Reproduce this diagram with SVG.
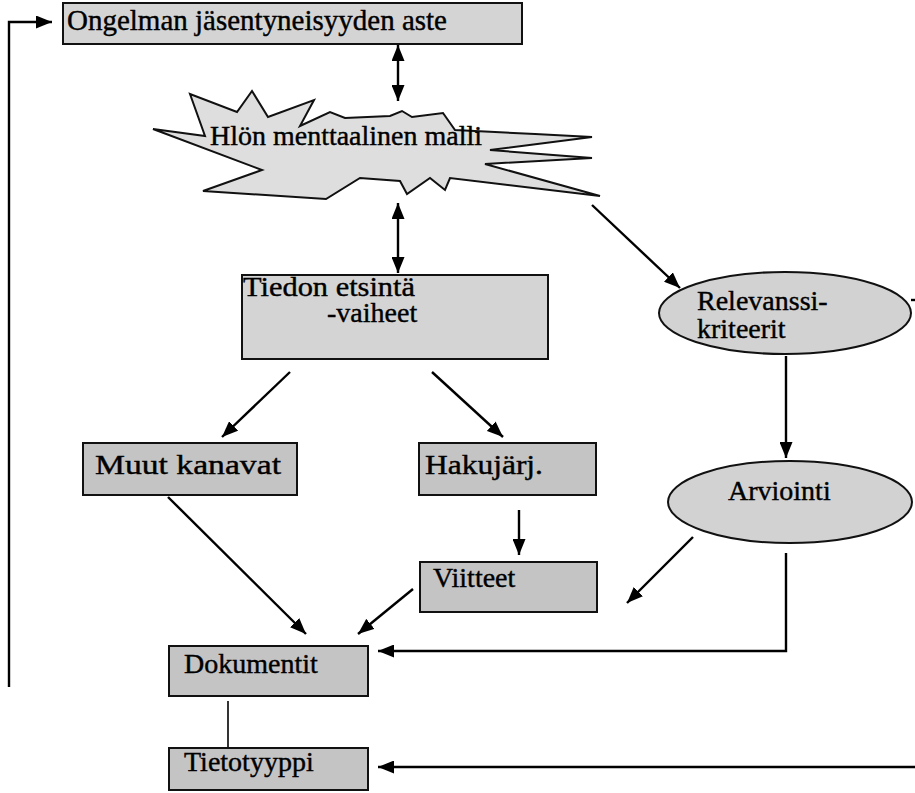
<svg xmlns="http://www.w3.org/2000/svg" width="915" height="793" viewBox="0 0 915 793">
<style>
.box{fill:#c4c4c4;stroke:#111;stroke-width:2}
.lbox{fill:#d4d4d4;stroke:#111;stroke-width:2}
.ell{fill:#d2d2d2;stroke:#111;stroke-width:2}
.star{fill:#dedede;stroke:#111;stroke-width:2;stroke-linejoin:miter}
.t{font-family:"Liberation Serif","Times New Roman",serif;font-size:28px;fill:#000;stroke:#000;stroke-width:0.4}
.c{fill:none;stroke:#000;stroke-width:2.4}
.thin{fill:none;stroke:#000;stroke-width:1.6}
</style>
<defs>
<marker id="ah" viewBox="0 0 16 13" refX="16" refY="6.5" markerWidth="16" markerHeight="13" markerUnits="userSpaceOnUse" orient="auto-start-reverse">
<path d="M0,0 L16,6.5 L0,13 z" fill="#000"/>
</marker>
</defs>
<rect width="915" height="793" fill="#fff"/>

<g id="connectors">
<polyline class="c" points="9,687 9,22 52,22" marker-end="url(#ah)"/>
<line class="c" x1="398" y1="45" x2="398" y2="101" marker-start="url(#ah)" marker-end="url(#ah)"/>
<line class="c" x1="398" y1="203" x2="398" y2="273" marker-start="url(#ah)" marker-end="url(#ah)"/>
<line class="c" x1="592" y1="205" x2="680" y2="288" marker-end="url(#ah)"/>
<line class="c" x1="290" y1="372" x2="222" y2="437" marker-end="url(#ah)"/>
<line class="c" x1="432" y1="372" x2="503" y2="437" marker-end="url(#ah)"/>
<line class="c" x1="786" y1="356" x2="786" y2="458" marker-end="url(#ah)"/>
<line class="c" x1="519" y1="510" x2="519" y2="555" marker-end="url(#ah)"/>
<line class="c" x1="168" y1="497" x2="306" y2="634" marker-end="url(#ah)"/>
<line class="c" x1="413" y1="589" x2="358" y2="634" marker-end="url(#ah)"/>
<line class="c" x1="693" y1="537" x2="627" y2="603" marker-end="url(#ah)"/>
<polyline class="c" points="786,553 786,651 378,651" marker-end="url(#ah)"/>
<line class="c" x1="911" y1="300" x2="925" y2="300"/>
<line class="c" x1="925" y1="767" x2="378" y2="767" marker-end="url(#ah)"/>
<line class="thin" x1="228" y1="701" x2="228" y2="752"/>
</g>

<g id="ongelman">
<rect class="lbox" x="63" y="3" width="459" height="41"/>
<text class="t" x="67" y="30" style="font-size:29px" textLength="380" lengthAdjust="spacingAndGlyphs">Ongelman jäsentyneisyyden aste</text>
</g>

<g id="malli">
<polygon class="star" points="153,129 205,136 190,94 237,112 252,91 268,117 314,100 300,126 330,112 345,118 390,116 402,111 412,117 443,113 455,130 535,134 592,137 490,150 592,158 485,164 600,196 450,178 445,190 430,178 407,194 400,181 360,178 326,199 203,191 262,170"/>
<text class="t" x="210" y="145" textLength="272" lengthAdjust="spacingAndGlyphs">Hlön menttaalinen malli</text>
</g>

<g id="tiedon">
<rect class="lbox" x="242" y="275" width="306" height="84"/>
<text class="t" x="243" y="296" textLength="172" lengthAdjust="spacingAndGlyphs">Tiedon etsintä</text>
<text class="t" x="327" y="322">-vaiheet</text>
</g>

<g id="relevanssi">
<ellipse class="ell" cx="785" cy="313" rx="126" ry="41"/>
<text class="t" x="697" y="310">Relevanssi-</text>
<text class="t" x="697" y="338">kriteerit</text>
</g>

<g id="muut">
<rect class="box" x="83" y="443" width="214" height="52"/>
<text class="t" x="95" y="474" textLength="186" lengthAdjust="spacingAndGlyphs">Muut kanavat</text>
</g>

<g id="hakujarj">
<rect class="box" x="419" y="443" width="177" height="52"/>
<text class="t" x="425" y="474" textLength="118" lengthAdjust="spacingAndGlyphs">Hakujärj.</text>
</g>

<g id="arviointi">
<ellipse class="ell" cx="790" cy="502" rx="122" ry="41"/>
<text class="t" x="728" y="500">Arviointi</text>
</g>

<g id="viitteet">
<rect class="box" x="420" y="562" width="177" height="50"/>
<text class="t" x="433" y="587">Viitteet</text>
</g>

<g id="dokumentit">
<rect class="box" x="169" y="646" width="199" height="50"/>
<text class="t" x="184" y="673">Dokumentit</text>
</g>

<g id="tietotyyppi">
<rect class="box" x="169" y="748" width="199" height="42"/>
<text class="t" x="184" y="771">Tietotyyppi</text>
</g>
</svg>
